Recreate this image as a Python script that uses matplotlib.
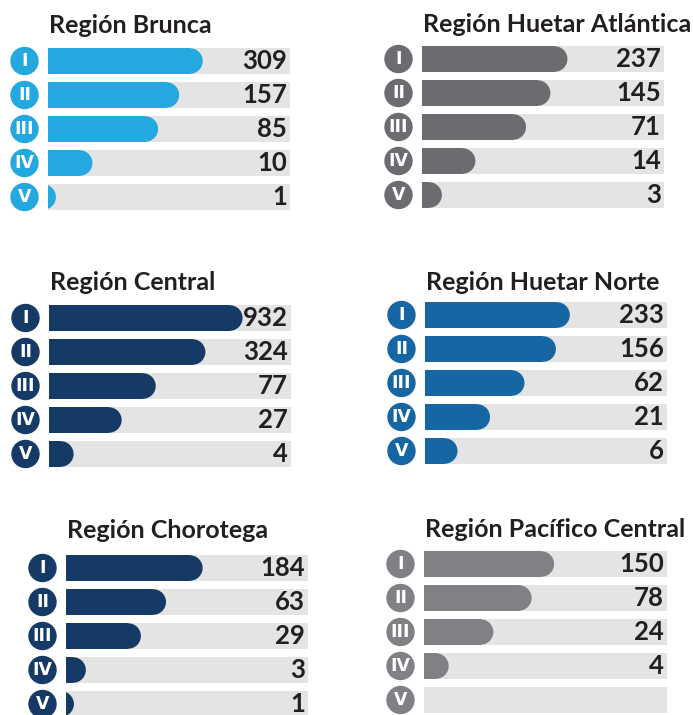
import numpy as np
import matplotlib
matplotlib.use('Agg')
import matplotlib.pyplot as plt
from matplotlib.patches import Circle, Rectangle
from matplotlib.transforms import IdentityTransform, blended_transform_factory, offset_copy

# Datos por región (número de casos por nivel)
regiones = ['Región Brunca', 'Región Huetar Atlántica', 'Región Central',
            'Región Huetar Norte', 'Región Chorotega', 'Región Pacífico Central']
niveles = ['I', 'II', 'III', 'IV', 'V']
brunca = [309, 157, 85, 10, 1]
huetar_atlantica = [237, 145, 71, 14, 3]
central = [932, 324, 77, 27, 4]
huetar_norte = [233, 156, 62, 21, 6]
chorotega = [184, 63, 29, 3, 1]
pacifico_central = [150, 78, 24, 4, None]
datos = [brunca, huetar_atlantica, central, huetar_norte, chorotega, pacifico_central]

colores = ['#24a8e0', '#6b6c70', '#163a66', '#1766a4', '#163a66', '#808184']
PISTA = '#e4e4e4'
TEXTO = '#231f20'
FUENTE = 'Lato'

W, H = 693, 715
FILA = 34  # px entre filas
# (pista izq, pista der, centro primera fila, título x, título base) en px desde arriba
paneles = [
    (48, 290, 61, 49, 33),
    (422, 664, 59, 423, 32),
    (49, 291, 318, 50, 290),
    (425, 667, 315, 426, 290),
    (66, 308, 568, 67, 538),
    (424, 667, 564, 425, 537),
]


def fwd(x):
    return np.log1p(np.clip(x, 0, None) / 4)


def inv(y):
    return 4 * np.expm1(y)


TOPE = inv(fwd(932) / 0.8)

fig = plt.figure(figsize=(W / 100, H / 100), dpi=100)
ident = IdentityTransform()

for nombre, valores, color, (x0, x1, y0, tx, ty) in zip(regiones, datos, colores, paneles):
    ax = fig.add_axes([x0 / W, 1 - (y0 + 4.5 * FILA) / H, (x1 - x0) / W, 5 * FILA / H])
    ax.set_xscale('function', functions=(fwd, inv))
    ax.set_xlim(0, TOPE)
    ax.set_ylim(4.5, -0.5)
    ax.axis('off')

    filas = np.arange(len(niveles))
    vals = [0 if v is None else v for v in valores]
    pistas = ax.barh(filas, TOPE, height=0.75, color=PISTA, zorder=1)
    barras = ax.barh(filas, vals, height=0.75, color=color, zorder=2)

    # extremo derecho redondeado
    for pista, barra, v in zip(pistas, barras, vals):
        barra.set_visible(False)
        if v <= 0:
            continue
        bb = barra.get_window_extent()
        r = bb.height / 2
        cy = (bb.y0 + bb.y1) / 2
        partes = [Circle((bb.x1 - r, cy), r, transform=ident)]
        if bb.width > r:
            partes.append(Rectangle((bb.x0, bb.y0), bb.width - r, bb.height, transform=ident))
        for p in partes:
            p.set_facecolor(color)
            p.set_edgecolor('none')
            p.set_zorder(2)
            ax.add_patch(p)
            p.set_clip_path(pista)

    # insignias con números romanos
    for i, nivel in enumerate(niveles):
        px, py = ax.transData.transform((0, i))
        ax.add_patch(Circle((px - 23.5, py), 13.5, transform=ident, color=color,
                            clip_on=False, zorder=3))
        ax.text(px - 23.5, py, nivel, transform=ident, ha='center', va='center',
                color='white', fontsize=12.5, fontweight='bold', zorder=4)

    # valores
    trans = offset_copy(blended_transform_factory(ax.transAxes, ax.transData),
                        fig=fig, x=-3, y=0, units='dots')
    for i, v in enumerate(valores):
        if v is None:
            continue
        ax.text(1, i, str(v), transform=trans, ha='right', va='center',
                fontsize=18.5, fontweight='bold', color=TEXTO, family=FUENTE, zorder=5)

    fig.text(tx / W, 1 - ty / H, nombre, ha='left', va='baseline', fontsize=18,
             fontweight='bold', color=TEXTO, family=FUENTE)

fig.savefig('out.png', dpi=100, facecolor='white')
